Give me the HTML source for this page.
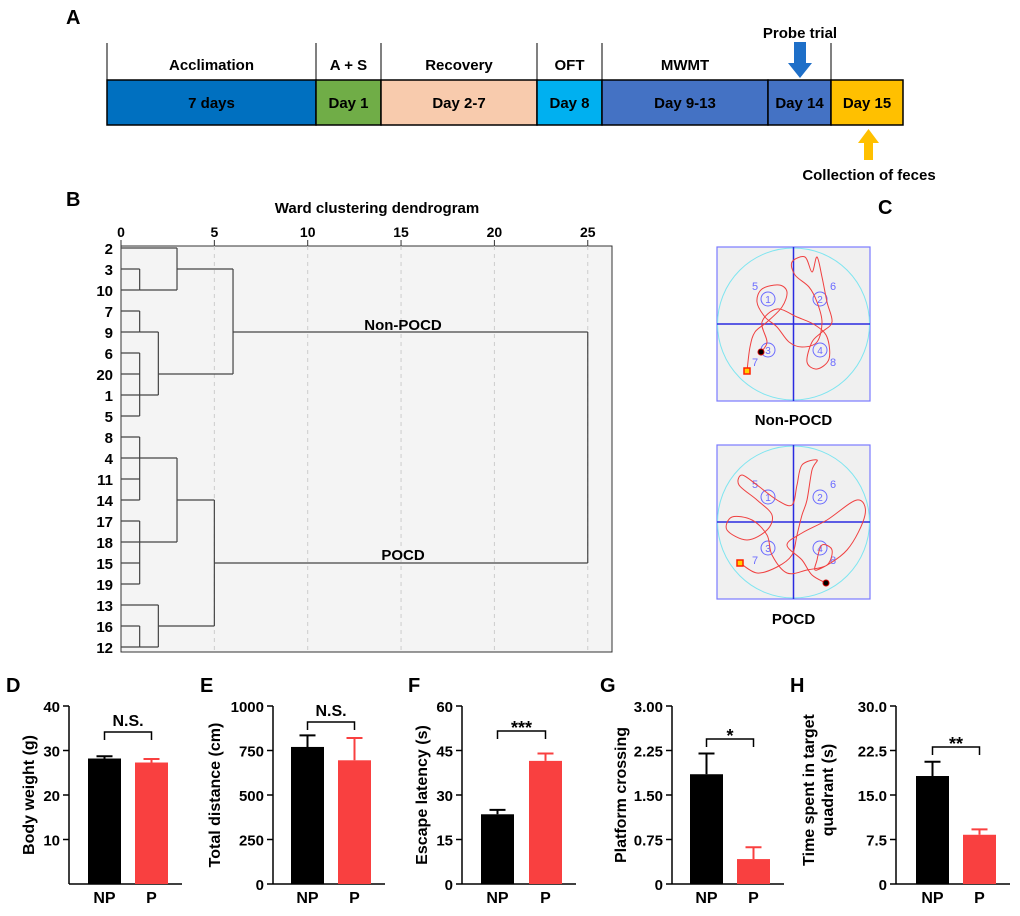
<!DOCTYPE html>
<html><head><meta charset="utf-8"><style>
body{margin:0;background:#fff;}
svg text{font-family:"Liberation Sans",Arial,sans-serif;font-weight:bold;}
</style></head><body>
<svg id="fig" width="1020" height="911" viewBox="0 0 1020 911" xmlns="http://www.w3.org/2000/svg">
<g>
<text x="66" y="24" font-size="20">A</text>
<g id="tl"></g>
<text x="800" y="38" font-size="15" text-anchor="middle">Probe trial</text>
<polygon points="794,42 806,42 806,63 812,63 800,78 788,63 794,63" fill="#1e6fc8"/>
<polygon points="864,160 873,160 873,143 879,143 868.5,129 858,143 864,143" fill="#ffc000"/>
<text x="869" y="180" font-size="15" text-anchor="middle">Collection of feces</text>
</g>
<text x="66" y="206" font-size="20">B</text>
<text x="377" y="213" font-size="15" text-anchor="middle">Ward clustering dendrogram</text>
<g id="dendro"></g>
<text x="878" y="214" font-size="20">C</text>
<g id="mazes"></g>
<g id="bars"></g>
</svg>
<script>
const NS="http://www.w3.org/2000/svg";
function mk(tag,attrs,parent,text){const e=document.createElementNS(NS,tag);for(const k in attrs)e.setAttribute(k,attrs[k]);if(text!==undefined)e.textContent=text;parent.appendChild(e);return e;}

const tlStages=["Acclimation","A + S","Recovery","OFT","MWMT","",""];
const tlDays=["7 days","Day 1","Day 2-7","Day 8","Day 9-13","Day 14","Day 15"];
const tlEdges=[107,316,381,537,602,768,831,903];
const tlColors=["#0070c0","#70ad47","#f8cbad","#00b0f0","#4472c4","#4472c4","#ffc000"];
const tl=document.getElementById('tl');
for(let i=0;i<tlDays.length;i++){
  const r=mk('rect',{x:tlEdges[i],y:80,width:tlEdges[i+1]-tlEdges[i],height:45,fill:tlColors[i],stroke:'#000','stroke-width':1.5},tl);
  
  
  const t=mk('text',{x:(tlEdges[i]+tlEdges[i+1])/2,y:108,'font-size':15,'text-anchor':'middle'},tl,tlDays[i]);
  
  
  if(tlStages[i]){const s=mk('text',{x:(tlEdges[i]+tlEdges[i+1])/2,y:70,'font-size':15,'text-anchor':'middle'},tl,tlStages[i]);
  
  }
}
[107,316,381,537,602,831].forEach(x=>{const l=mk('line',{x1:x,y1:43,x2:x,y2:80,stroke:'#000','stroke-width':1},tl);

});

const leafLabels=["2","3","10","7","9","6","20","1","5","8","4","11","14","17","18","15","19","13","16","12"];
const dTicks=[0,5,10,15,20,25];
const clusterIds=["A","B","C","D","E","F","G","H","I","J","K","L","R"];
const clusterChildren=[["L1","L2"],["L0","A"],["L3","L4"],["L5","L6","L7","L8"],["C","D"],["B","E"],["L9","L10","L11","L12"],["L13","L14","L15","L16"],["G","H"],["L18","L19"],["L17","J"],["I","K"],["F","L"]];
const clusterHeights=[1,3,1,1,2,6,1,1,3,1,2,5,25];
const clusterRows=[2,1,4,7,6,4,10,14,12,19,18,15,null];
const dx=v=>121+v*18.67, dy=r=>248+r*21;
const dg=document.getElementById('dendro');
const bg=mk('rect',{x:121,y:246,width:491,height:406,fill:'#f4f4f4',stroke:'#333','stroke-width':1},dg);


dTicks.forEach(t=>{
  if(t>0){const g=mk('line',{x1:dx(t),y1:246,x2:dx(t),y2:652,stroke:'#ccc','stroke-dasharray':'4,4'},dg);
  
  }
  const tk=mk('line',{x1:dx(t),y1:240,x2:dx(t),y2:246,stroke:'#333'},dg);
  
  
  const tx=mk('text',{x:dx(t),y:237,'font-size':14,'text-anchor':'middle'},dg,t);
  
  
});
mk('line',{x1:121,y1:240,x2:121,y2:652,stroke:'#333'},dg);
leafLabels.forEach((l,i)=>{const t=mk('text',{x:113,y:dy(i)+6,'font-size':15,'text-anchor':'end'},dg,l);

});
const info={};
leafLabels.forEach((l,i)=>info["L"+i]={h:0,row:i});
clusterIds.forEach((id,k)=>{
  const h=clusterHeights[k];const rows=[];
  clusterChildren[k].forEach(c=>{const ci=info[c];rows.push(ci.row);
    const ln=mk('line',{x1:dx(ci.h),y1:dy(ci.row),x2:dx(h),y2:dy(ci.row),stroke:'#444','stroke-width':1.2},dg);
    
    });
  const v=mk('line',{x1:dx(h),y1:dy(Math.min(...rows)),x2:dx(h),y2:dy(Math.max(...rows)),stroke:'#444','stroke-width':1.2},dg);
  
  
  info[id]={h:h,row:clusterRows[k]};
});
mk('text',{x:403,y:330,'font-size':15,'text-anchor':'middle'},dg,'Non-POCD');
mk('text',{x:403,y:560,'font-size':15,'text-anchor':'middle'},dg,'POCD');

const mz=document.getElementById('mazes');
const pathTop=[[30,124],[33,100],[38,85],[50,75],[65,60],[70,45],[62,38],[45,42],[40,55],[48,70],[60,80],[72,95],[85,100],[100,95],[105,75],[100,55],[92,40],[78,28],[75,15],[88,10],[95,25],[100,10],[105,30],[110,55],[115,75],[105,85],[95,95],[90,115],[100,122],[112,112],[110,90],[98,78],[80,70],[60,62],[45,75],[50,95],[44,105]];
const pathBot=[[23,118],[40,128],[60,122],[75,110],[80,90],[85,70],[90,55],[95,25],[100,15],[85,20],[80,40],[75,60],[60,55],[40,40],[25,30],[22,40],[40,55],[55,70],[50,85],[30,95],[10,85],[15,72],[35,75],[50,90],[55,110],[70,128],[90,125],[110,120],[115,105],[105,100],[100,115],[100,125],[130,105],[148,70],[140,55],[110,75],[85,88],[70,100],[85,115],[95,130],[109,138]];
function smooth(p){let d=`M${p[0][0]},${p[0][1]}`;for(let i=0;i<p.length-1;i++){const p0=p[Math.max(0,i-1)],p1=p[i],p2=p[i+1],p3=p[Math.min(p.length-1,i+2)];
d+=` C${p1[0]+(p2[0]-p0[0])/6},${p1[1]+(p2[1]-p0[1])/6} ${p2[0]-(p3[0]-p1[0])/6},${p2[1]-(p3[1]-p1[1])/6} ${p2[0]},${p2[1]}`;}return d;}
function maze(x0,y0,pts,label,ly,name){
  const g=mk('g',{transform:`translate(${x0},${y0})`},mz);
  
  
  mk('rect',{x:0,y:0,width:153,height:154,fill:'#f0f0f0',stroke:'#7a7aff','stroke-width':1.2},g);
  mk('circle',{cx:76.5,cy:77,r:76,fill:'none',stroke:'#7fe5f0','stroke-width':1},g);
  mk('line',{x1:76.5,y1:0,x2:76.5,y2:154,stroke:'#2a2ae0','stroke-width':1.5},g);
  mk('line',{x1:0,y1:77,x2:153,y2:77,stroke:'#2a2ae0','stroke-width':1.5},g);
  [["5",38,39],["6",116,39],["7",38,115],["8",116,115]].forEach(a=>mk('text',{x:a[1],y:a[2]+4,'font-size':11,fill:'#6b6bff','text-anchor':'middle',style:'font-weight:normal'},g,a[0]));
  [["1",51,52],["2",103,52],["3",51,103],["4",103,103]].forEach(a=>{mk('circle',{cx:a[1],cy:a[2],r:7,fill:'none',stroke:'#6b6bff'},g);mk('text',{x:a[1],y:a[2]+4,'font-size':10,fill:'#6b6bff','text-anchor':'middle',style:'font-weight:normal'},g,a[0]);});
  mk('path',{d:smooth(pts),fill:'none',stroke:'#f04040','stroke-width':1},g);
  const s=pts[0],e=pts[pts.length-1];
  mk('rect',{x:s[0]-3,y:s[1]-3,width:6,height:6,fill:'#ffd000',stroke:'#ff2000','stroke-width':1.5},g);
  mk('circle',{cx:e[0],cy:e[1],r:3,fill:'#000',stroke:'#c00'},g);
  mk('text',{x:x0+76.5,y:ly,'font-size':15,'text-anchor':'middle'},mz,label);
}
maze(717,247,pathTop,'Non-POCD',425,'non-pocd-swim-path');
maze(717,445,pathBot,'POCD',624,'pocd-swim-path');

const groupNames=["NP","P"];
const weightValues=[28.2,27.3], weightErrors=[0.5,0.8], weightTicks=[10,20,30,40];
const distanceValues=[770,695], distanceErrors=[65,125], distanceTicks=[0,250,500,750,1000];
const latencyValues=[23.5,41.5], latencyErrors=[1.5,2.5], latencyTicks=[0,15,30,45,60];
const crossingValues=[1.85,0.42], crossingErrors=[0.35,0.2], crossingTicks=["0","0.75","1.50","2.25","3.00"];
const quadrantValues=[18.2,8.3], quadrantErrors=[2.4,0.9], quadrantTicks=["0","7.5","15.0","22.5","30.0"];
const panels=[
 {L:'D',lx:6,ax:69,b1:88,b2:135,max:40,vals:weightValues,errs:weightErrors,ticks:weightTicks,title:['Body weight (g)'],tx:34,sig:'N.S.',sy:732,name:'body-weight'},
 {L:'E',lx:200,ax:273,b1:291,b2:338,max:1000,vals:distanceValues,errs:distanceErrors,ticks:distanceTicks,title:['Total distance (cm)'],tx:220,sig:'N.S.',sy:722,name:'total-distance'},
 {L:'F',lx:408,ax:462,b1:481,b2:529,max:60,vals:latencyValues,errs:latencyErrors,ticks:latencyTicks,title:['Escape latency (s)'],tx:427,sig:'***',sy:731,name:'escape-latency'},
 {L:'G',lx:600,ax:672,b1:690,b2:737,max:3,vals:crossingValues,errs:crossingErrors,ticks:crossingTicks,title:['Platform crossing'],tx:626,sig:'*',sy:739,name:'platform-crossing'},
 {L:'H',lx:790,ax:896,b1:916,b2:963,max:30,vals:quadrantValues,errs:quadrantErrors,ticks:quadrantTicks,title:['Time spent in target','quadrant (s)'],tx:824,sig:'**',sy:747,name:'time-in-quadrant'}
];
const bars=document.getElementById('bars');
const yTop=706,yBot=884,bw=33;
panels.forEach(p=>{
  const g=mk('g',{},bars);
  
  
  const y=v=>yBot-(v/p.max)*(yBot-yTop);
  mk('text',{x:p.lx,y:692,'font-size':20},g,p.L);
  mk('line',{x1:p.ax,y1:yTop,x2:p.ax,y2:yBot,stroke:'#000','stroke-width':1.5},g);
  mk('line',{x1:p.ax,y1:yBot,x2:p.b2+bw+14,y2:yBot,stroke:'#000','stroke-width':1.5},g);
  p.ticks.forEach(t=>{const v=parseFloat(t);const tk=mk('line',{x1:p.ax-6,y1:y(v),x2:p.ax,y2:y(v),stroke:'#000','stroke-width':1.5},g);
    
    
    const tl=mk('text',{x:p.ax-9,y:y(v)+6,'font-size':15,'text-anchor':'end'},g,t);
    
    });
  const tg=mk('text',{transform:`translate(${p.tx},${(yTop+yBot)/2}) rotate(-90)`,'font-size':16,'text-anchor':'middle'},g);
  
  
  p.title.forEach((s,i)=>mk('tspan',{x:0,dy:i?19:0},tg,s));
  if(p.title.length>1)tg.setAttribute('transform',`translate(${p.tx-10},${(yTop+yBot)/2-5}) rotate(-90)`);
  const xs=[p.b1,p.b2],cols=['#000','#f94040'];
  p.vals.forEach((v,i)=>{
    const r=mk('rect',{x:xs[i],y:y(v),width:bw,height:yBot-y(v),fill:cols[i]},g);
    
    
    const cx=xs[i]+bw/2,te=y(v+p.errs[i]);
    const e=mk('path',{d:`M${cx},${y(v)} V${te} M${cx-8},${te} H${cx+8}`,stroke:cols[i],'stroke-width':2,fill:'none'},g);
    
    
    const xl=mk('text',{x:cx,y:903,'font-size':16,'text-anchor':'middle'},g,groupNames[i]);
    
    
  });
  const c1=p.b1+bw/2,c2=p.b2+bw/2;
  const br=mk('path',{d:`M${c1},${p.sy+8} V${p.sy} H${c2} V${p.sy+8}`,stroke:'#000','stroke-width':1.5,fill:'none'},g);
  
  
  const st=mk('text',{x:(c1+c2)/2,y:p.sy-(p.sig[0]==='*'?-3:6),'font-size':p.sig[0]==='*'?18:16,'text-anchor':'middle'},g,p.sig);
  
  
});
</script>
</body></html>
